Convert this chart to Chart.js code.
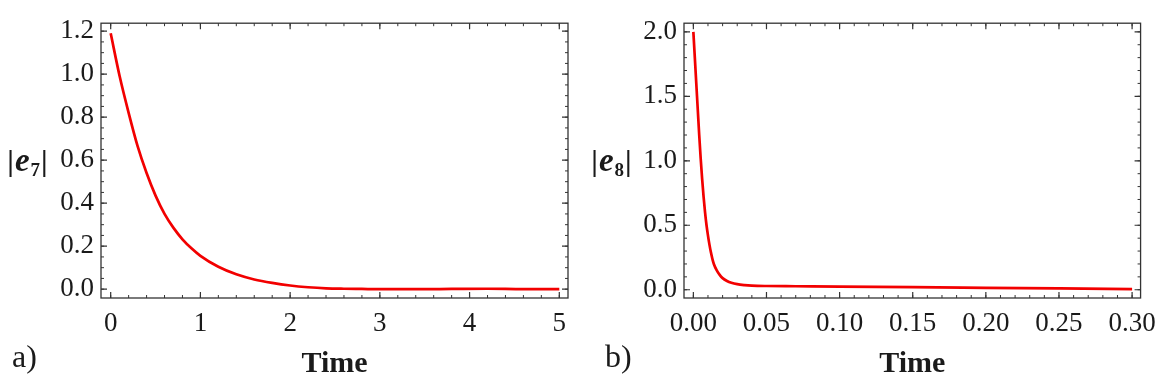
<!DOCTYPE html>
<html>
<head>
<meta charset="utf-8">
<script src="https://cdn.jsdelivr.net/npm/chart.js@4/dist/chart.umd.min.js"></script>
<style>
  html, body { margin: 0; padding: 0; background: #fff; }
  #wrap { position: relative; width: 1166px; height: 384px; }
  .panel { position: absolute; top: 0; width: 583px; height: 384px; }
</style>
</head>
<body>
<div id="wrap">
  <div class="panel" style="left:0"><canvas id="chartA" width="583" height="384"></canvas></div>
  <div class="panel" style="left:583px"><canvas id="chartB" width="583" height="384"></canvas></div>
</div>
<script>
/* ─── data ─── */
const timeA = [0, 0.1, 0.2, 0.3, 0.4, 0.5, 0.6, 0.7, 0.8, 0.9, 1.0, 1.2, 1.4, 1.6, 1.8, 2.0, 2.2, 2.4, 2.6, 2.8, 3.0, 3.4, 3.8, 4.2, 4.6, 5.0];
const e7Vals = [1.19, 0.99, 0.82, 0.665, 0.54, 0.435, 0.35, 0.285, 0.232, 0.19, 0.155, 0.104, 0.069, 0.045, 0.029, 0.017, 0.009, 0.004, 0.002, 0.001, 0.000, 0.000, 0.001, 0.002, 0.000, 0.000];

const timeB = [0, 0.001, 0.002, 0.003, 0.004, 0.005, 0.006, 0.007, 0.008, 0.009, 0.010, 0.011, 0.012, 0.013, 0.014, 0.016, 0.018, 0.020, 0.023, 0.026, 0.030, 0.035, 0.040, 0.05, 0.07, 0.10, 0.15, 0.20, 0.25, 0.30];
const e8Vals = [2.0, 1.80, 1.60, 1.40, 1.20, 1.02, 0.86, 0.72, 0.60, 0.50, 0.42, 0.35, 0.29, 0.24, 0.20, 0.15, 0.115, 0.09, 0.068, 0.054, 0.043, 0.036, 0.032, 0.029, 0.027, 0.024, 0.020, 0.015, 0.010, 0.005];

const xTicksA = [0, 1, 2, 3, 4, 5];
const xLabelsA = ['0', '1', '2', '3', '4', '5'];
const yTicksA = [0, 0.2, 0.4, 0.6, 0.8, 1.0, 1.2];
const yLabelsA = ['0.0', '0.2', '0.4', '0.6', '0.8', '1.0', '1.2'];

const xTicksB = [0, 0.05, 0.10, 0.15, 0.20, 0.25, 0.30];
const xLabelsB = ['0.00', '0.05', '0.10', '0.15', '0.20', '0.25', '0.30'];
const yTicksB = [0, 0.5, 1.0, 1.5, 2.0];
const yLabelsB = ['0.0', '0.5', '1.0', '1.5', '2.0'];

const SERIF = '"Liberation Serif", "Times New Roman", serif';
const INK = '#1a1a1a';

/* frame with inward major + minor ticks on all four sides */
const framePlugin = {
  id: 'frame',
  afterDatasetsDraw(chart, args, opts) {
    const { ctx, chartArea: a, scales: { x, y } } = chart;
    ctx.save();
    ctx.strokeStyle = '#333';
    ctx.lineWidth = 1.3;
    ctx.strokeRect(a.left, a.top, a.right - a.left, a.bottom - a.top);

    const mark = (v, len, horiz) => {
      if (horiz) {
        const px = x.getPixelForValue(v);
        if (px < a.left - 0.5 || px > a.right + 0.5) return;
        ctx.moveTo(px, a.bottom); ctx.lineTo(px, a.bottom - len);
        ctx.moveTo(px, a.top); ctx.lineTo(px, a.top + len);
      } else {
        const py = y.getPixelForValue(v);
        if (py < a.top - 0.5 || py > a.bottom + 0.5) return;
        ctx.moveTo(a.left, py); ctx.lineTo(a.left + len, py);
        ctx.moveTo(a.right, py); ctx.lineTo(a.right - len, py);
      }
    };
    ctx.beginPath();
    ctx.lineWidth = 1;
    for (let i = Math.ceil(x.min / opts.xMinor); i * opts.xMinor <= x.max; i++) mark(i * opts.xMinor, 3, true);
    for (let i = Math.ceil(y.min / opts.yMinor); i * opts.yMinor <= y.max; i++) mark(i * opts.yMinor, 3, false);
    ctx.stroke();
    ctx.beginPath();
    ctx.lineWidth = 1.2;
    opts.xMajor.forEach(v => mark(v, 6, true));
    opts.yMajor.forEach(v => mark(v, 6, false));
    ctx.stroke();
    ctx.restore();
  },
  afterDraw(chart, args, opts) {
    // |e_n| axis label and panel letter
    const { ctx, chartArea: a } = chart;
    ctx.save();
    ctx.fillStyle = INK;
    ctx.textBaseline = 'alphabetic';
    const parts = [
      { t: '|', f: 'bold 30px ' + SERIF, dy: 0 },
      { t: 'e', f: 'italic bold 33px ' + SERIF, dy: 0 },
      { t: opts.sub, f: 'bold 19px ' + SERIF, dy: 5 },
      { t: '|', f: 'bold 30px ' + SERIF, dy: 0 }
    ];
    let w = 0;
    parts.forEach(p => { ctx.font = p.f; p.w = ctx.measureText(p.t).width; w += p.w + 1; });
    let cx = opts.labelX - w / 2;
    const base = (a.top + a.bottom) / 2 + 10;
    parts.forEach(p => { ctx.font = p.f; ctx.fillText(p.t, cx, base + p.dy); cx += p.w + 1; });

    ctx.font = '32px ' + SERIF;
    ctx.fillText(opts.letter, opts.letterX, 367);
    ctx.restore();
  }
};

function makePanel(id, xs, ys, xT, xL, yT, yL, xMin, xMax, yMin, yMax, frameOpts) {
  const pts = xs.map((t, i) => ({ x: t, y: ys[i] }));
  return new Chart(document.getElementById(id), {
    type: 'line',
    data: {
      datasets: [{
        data: pts,
        borderColor: '#f20000',
        borderWidth: 2.7,
        pointRadius: 0,
        cubicInterpolationMode: 'monotone',
        fill: false
      }]
    },
    options: {
      responsive: false,
      animation: false,
      events: [],
      layout: { padding: { top: 10, right: 15, left: 0, bottom: 0 } },
      plugins: { legend: { display: false }, tooltip: { enabled: false }, frame: frameOpts },
      scales: {
        x: {
          type: 'linear', min: xMin, max: xMax,
          grid: { display: false, drawTicks: false },
          border: { display: false },
          afterFit: s => { s.height = 86; },
          afterBuildTicks: s => { s.ticks = xT.map(v => ({ value: v })); },
          ticks: {
            padding: 10, color: INK, maxRotation: 0, autoSkip: false,
            font: { family: SERIF, size: 27 },
            callback: (v) => xL[xT.indexOf(v)]
          },
          title: {
            display: true, text: 'Time', color: INK,
            font: { family: SERIF, size: 30, weight: 'bold', lineHeight: 1.2 },
            padding: { top: 0, bottom: 2 }
          }
        },
        y: {
          type: 'linear', min: yMin, max: yMax,
          grid: { display: false, drawTicks: false },
          border: { display: false },
          afterFit: s => { s.width = 101; },
          afterBuildTicks: s => { s.ticks = yT.map(v => ({ value: v })); },
          ticks: {
            padding: 7, color: INK, autoSkip: false,
            font: { family: SERIF, size: 27 },
            callback: (v) => yL[yT.indexOf(v)]
          }
        }
      }
    },
    plugins: [framePlugin]
  });
}

makePanel('chartA', timeA, e7Vals, xTicksA, xLabelsA, yTicksA, yLabelsA,
  -0.108, 5.097, -0.041, 1.237,
  { xMinor: 0.2, yMinor: 0.05, xMajor: xTicksA, yMajor: yTicksA, sub: '7', labelX: 28, letter: 'a)', letterX: 12 });

makePanel('chartB', timeB, e8Vals, xTicksB, xLabelsB, yTicksB, yLabelsB,
  -0.0064, 0.3058, -0.064, 2.067,
  { xMinor: 0.01, yMinor: 0.1, xMajor: xTicksB, yMajor: yTicksB, sub: '8', labelX: 29, letter: 'b)', letterX: 22 });
</script>
</body>
</html>
